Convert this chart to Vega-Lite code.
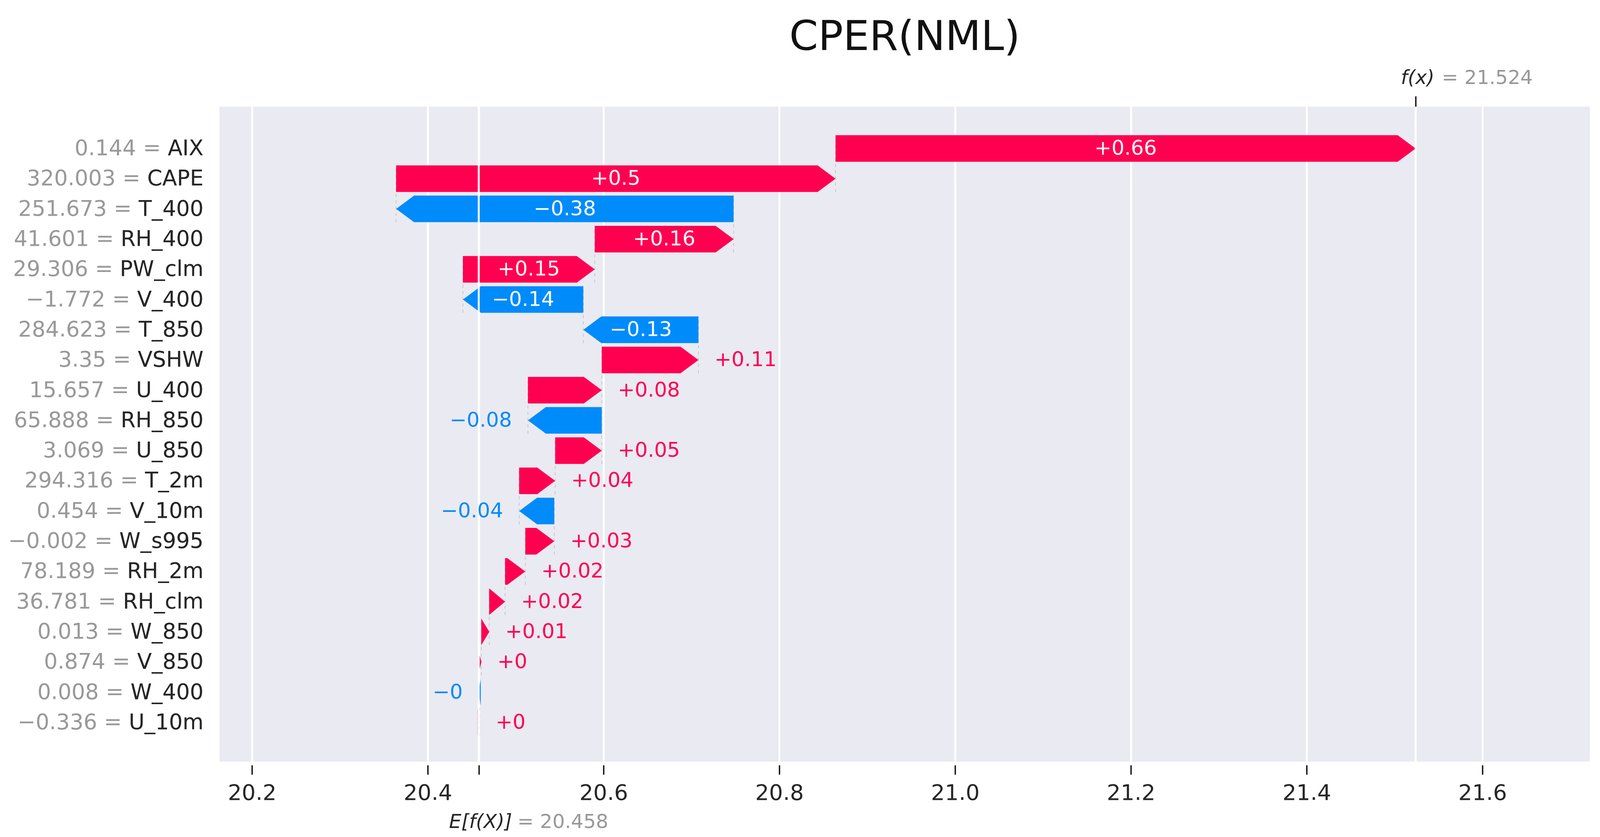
{
  "$schema": "https://vega.github.io/schema/vega-lite/v6.json",
  "width": 3508,
  "height": 1676,
  "autosize": {"type": "none"},
  "padding": {"left": 562, "top": 273, "right": 39, "bottom": 193},
  "background": "white",
  "title": {"text": "CPER(NML)", "fontSize": 106, "font": "DejaVu Sans", "fontWeight": "normal", "color": "#111111", "anchor": "middle", "frame": "group", "offset": 0, "dy": 59, "baseline": "alphabetic"},
  "config": {
    "font": "DejaVu Sans",
    "view": {"fill": "#eaeaf2", "stroke": null}
  },
  "datasets": {
    "rows": [
      {"feature": "AIX", "lbl": "0.144 = AIX", "shap": 0.660, "start": 20.864, "end": 21.524, "txt": "+0.66"},
      {"feature": "CAPE", "lbl": "320.003 = CAPE", "shap": 0.500, "start": 20.364, "end": 20.864, "txt": "+0.5"},
      {"feature": "T_400", "lbl": "251.673 = T_400", "shap": -0.384, "start": 20.748, "end": 20.364, "txt": "−0.38"},
      {"feature": "RH_400", "lbl": "41.601 = RH_400", "shap": 0.158, "start": 20.590, "end": 20.748, "txt": "+0.16"},
      {"feature": "PW_clm", "lbl": "29.306 = PW_clm", "shap": 0.150, "start": 20.440, "end": 20.590, "txt": "+0.15"},
      {"feature": "V_400", "lbl": "−1.772 = V_400", "shap": -0.137, "start": 20.577, "end": 20.440, "txt": "−0.14"},
      {"feature": "T_850", "lbl": "284.623 = T_850", "shap": -0.131, "start": 20.708, "end": 20.577, "txt": "−0.13"},
      {"feature": "VSHW", "lbl": "3.35 = VSHW", "shap": 0.110, "start": 20.598, "end": 20.708, "txt": "+0.11"},
      {"feature": "U_400", "lbl": "15.657 = U_400", "shap": 0.084, "start": 20.514, "end": 20.598, "txt": "+0.08"},
      {"feature": "RH_850", "lbl": "65.888 = RH_850", "shap": -0.084, "start": 20.598, "end": 20.514, "txt": "−0.08"},
      {"feature": "U_850", "lbl": "3.069 = U_850", "shap": 0.053, "start": 20.545, "end": 20.598, "txt": "+0.05"},
      {"feature": "T_2m", "lbl": "294.316 = T_2m", "shap": 0.041, "start": 20.504, "end": 20.545, "txt": "+0.04"},
      {"feature": "V_10m", "lbl": "0.454 = V_10m", "shap": -0.040, "start": 20.544, "end": 20.504, "txt": "−0.04"},
      {"feature": "W_s995", "lbl": "−0.002 = W_s995", "shap": 0.033, "start": 20.511, "end": 20.544, "txt": "+0.03"},
      {"feature": "RH_2m", "lbl": "78.189 = RH_2m", "shap": 0.023, "start": 20.488, "end": 20.511, "txt": "+0.02"},
      {"feature": "RH_clm", "lbl": "36.781 = RH_clm", "shap": 0.018, "start": 20.470, "end": 20.488, "txt": "+0.02"},
      {"feature": "W_850", "lbl": "0.013 = W_850", "shap": 0.009, "start": 20.461, "end": 20.470, "txt": "+0.01"},
      {"feature": "V_850", "lbl": "0.874 = V_850", "shap": 0.003, "start": 20.458, "end": 20.461, "txt": "+0"},
      {"feature": "W_400", "lbl": "0.008 = W_400", "shap": -0.001, "start": 20.459, "end": 20.458, "txt": "−0"},
      {"feature": "U_10m", "lbl": "−0.336 = U_10m", "shap": 0.001, "start": 20.458, "end": 20.459, "txt": "+0"}
    ],
    "refs": [
      {"name": "base", "v": 20.458, "sym": "E[f(X)]", "eq": "= 20.458"},
      {"name": "fx", "v": 21.524, "sym": "f(x)", "eq": "= 21.524"}
    ]
  },
  "resolve": {"axis": {"x": "independent"}},
  "layer": [
    {
      "data": {"name": "rows"},
      "transform": [
        {"window": [{"op": "lag", "field": "lbl", "as": "above"}]},
        {"filter": "datum.above != null"}
      ],
      "mark": {"type": "rule", "color": "#bbbbbb", "strokeWidth": 1.5, "strokeDash": [8, 8], "yOffset": 34, "y2Offset": -34},
      "encoding": {
        "x": {
          "field": "end", "type": "quantitative",
          "scale": {"domain": [20.1631, 21.7222], "nice": false, "zero": false},
          "axis": {
            "orient": "bottom", "title": null, "values": [20.2, 20.4, 20.458, 20.6, 20.8, 21.0, 21.2, 21.4, 21.6],
            "labelExpr": "abs(datum.value - 20.458) < 0.001 ? '' : format(datum.value, '.1f')",
            "domain": false, "ticks": true, "tickColor": "#111111", "tickWidth": 3.5, "tickSize": 24, "offset": 9,
            "labelFontSize": 56, "labelColor": "#262626", "labelPadding": 20, "labelFlush": false, "labelOverlap": false,
            "grid": true, "gridColor": "#ffffff", "gridWidth": 5, "gridOpacity": 1
          }
        },
        "y": {
          "field": "lbl", "type": "nominal", "sort": null,
          "scale": {
            "type": "band",
            "domain": ["0.144 = AIX", "320.003 = CAPE", "251.673 = T_400", "41.601 = RH_400", "29.306 = PW_clm", "−1.772 = V_400", "284.623 = T_850", "3.35 = VSHW", "15.657 = U_400", "65.888 = RH_850", "3.069 = U_850", "294.316 = T_2m", "0.454 = V_10m", "−0.002 = W_s995", "78.189 = RH_2m", "36.781 = RH_clm", "0.013 = W_850", "0.874 = V_850", "0.008 = W_400", "−0.336 = U_10m"],
            "paddingInner": 0, "paddingOuter": 0.838, "align": 0.527
          },
          "axis": {"title": null, "labels": false, "ticks": false, "domain": false, "grid": true, "gridColor": "#ffffff", "gridWidth": 5, "gridOpacity": 1, "bandPosition": 0.5}
        },
        "y2": {"field": "above"}
      }
    },
    {
      "data": {"name": "rows"},
      "transform": [{"filter": "datum.shap >= 0.0204"}],
      "mark": {"type": "bar", "color": "#ff0051", "height": {"band": 0.88}, "x2Offset": -46},
      "encoding": {
        "x": {"field": "start", "type": "quantitative", "axis": null},
        "x2": {"field": "end"},
        "y": {"field": "lbl", "type": "nominal", "sort": null, "axis": null}
      }
    },
    {
      "data": {"name": "rows"},
      "transform": [{"filter": "datum.shap <= -0.0204"}],
      "mark": {"type": "bar", "color": "#008bfb", "height": {"band": 0.88}, "x2Offset": 46},
      "encoding": {
        "x": {"field": "start", "type": "quantitative", "axis": null},
        "x2": {"field": "end"},
        "y": {"field": "lbl", "type": "nominal", "sort": null, "axis": null}
      }
    },
    {
      "data": {"name": "rows"},
      "transform": [{"filter": "datum.shap > 0"}],
      "mark": {"type": "point", "filled": true, "opacity": 1, "strokeWidth": 0, "size": 4624, "color": "#ff0051"},
      "encoding": {
        "x": {"field": "end", "type": "quantitative", "axis": null},
        "y": {"field": "lbl", "type": "nominal", "sort": null, "axis": null},
        "shape": {
          "condition": [
            {"test": "abs(datum.shap) < 0.002", "value": "M0,0 L-0.15,-1 L-0.15,1 Z"},
            {"test": "abs(datum.shap) < 0.005", "value": "M0,0 L-0.25,-1 L-0.25,1 Z"},
            {"test": "abs(datum.shap) < 0.012", "value": "M0,0 L-0.6,-1 L-0.6,1 Z"},
            {"test": "abs(datum.shap) < 0.0204", "value": "M0,0 L-1.2,-1 L-1.2,1 Z"}
          ],
          "value": "M0,0 L-1.35,-1 L-1.42,-1 L-1.42,1 L-1.35,1 Z"
        }
      }
    },
    {
      "data": {"name": "rows"},
      "transform": [{"filter": "datum.shap < 0"}],
      "mark": {"type": "point", "filled": true, "opacity": 1, "strokeWidth": 0, "size": 4624, "color": "#008bfb"},
      "encoding": {
        "x": {"field": "end", "type": "quantitative", "axis": null},
        "y": {"field": "lbl", "type": "nominal", "sort": null, "axis": null},
        "shape": {
          "condition": [
            {"test": "abs(datum.shap) < 0.002", "value": "M0,0 L0.15,-1 L0.15,1 Z"},
            {"test": "abs(datum.shap) < 0.005", "value": "M0,0 L0.25,-1 L0.25,1 Z"},
            {"test": "abs(datum.shap) < 0.012", "value": "M0,0 L0.6,-1 L0.6,1 Z"},
            {"test": "abs(datum.shap) < 0.0204", "value": "M0,0 L1.2,-1 L1.2,1 Z"}
          ],
          "value": "M0,0 L1.35,-1 L1.42,-1 L1.42,1 L1.35,1 Z"
        }
      }
    },
    {
      "data": {"name": "refs"},
      "mark": {"type": "rule", "color": "#ffffff", "strokeWidth": 5},
      "encoding": {
        "x": {
          "field": "v", "type": "quantitative",
          "axis": {"orient": "top", "title": null, "values": [21.524], "labels": false, "domain": false, "grid": false, "ticks": true, "tickSize": 27, "tickWidth": 3.5, "tickColor": "#111111", "offset": 0}
        }
      }
    },
    {
      "data": {"name": "rows"},
      "transform": [
        {"filter": "abs(datum.shap) >= 0.12"},
        {"fold": ["start", "end"], "as": ["k", "pos"]}
      ],
      "mark": {"type": "text", "color": "#ffffff", "fontSize": 52, "align": "center", "baseline": "middle"},
      "encoding": {
        "x": {"aggregate": "mean", "field": "pos", "type": "quantitative", "axis": null},
        "y": {"field": "lbl", "type": "nominal", "sort": null, "axis": null},
        "text": {"field": "txt", "type": "nominal"}
      }
    },
    {
      "data": {"name": "rows"},
      "transform": [{"filter": "datum.shap > 0 && datum.shap < 0.12"}],
      "mark": {"type": "text", "color": "#ff0051", "fontSize": 52, "align": "left", "baseline": "middle", "dx": 41},
      "encoding": {
        "x": {"field": "end", "type": "quantitative", "axis": null},
        "y": {"field": "lbl", "type": "nominal", "sort": null, "axis": null},
        "text": {"field": "txt", "type": "nominal"}
      }
    },
    {
      "data": {"name": "rows"},
      "transform": [{"filter": "datum.shap < 0 && datum.shap > -0.12"}],
      "mark": {"type": "text", "color": "#008bfb", "fontSize": 52, "align": "right", "baseline": "middle", "dx": -41},
      "encoding": {
        "x": {"field": "end", "type": "quantitative", "axis": null},
        "y": {"field": "lbl", "type": "nominal", "sort": null, "axis": null},
        "text": {"field": "txt", "type": "nominal"}
      }
    },
    {
      "data": {"name": "rows"},
      "mark": {"type": "text", "color": "#999999", "fontSize": 55, "align": "right", "baseline": "middle", "dx": -41},
      "encoding": {
        "x": {"datum": 20.1631, "type": "quantitative", "axis": null},
        "y": {"field": "lbl", "type": "nominal", "sort": null, "axis": null},
        "text": {"field": "lbl", "type": "nominal"}
      }
    },
    {
      "data": {"name": "rows"},
      "mark": {"type": "text", "color": "#262626", "fontSize": 55, "align": "right", "baseline": "middle", "dx": -41},
      "encoding": {
        "x": {"datum": 20.1631, "type": "quantitative", "axis": null},
        "y": {"field": "lbl", "type": "nominal", "sort": null, "axis": null},
        "text": {"field": "feature", "type": "nominal"}
      }
    },
    {
      "data": {"name": "refs"},
      "transform": [{"filter": "datum.name == 'fx'"}],
      "mark": {"type": "text", "color": "#262626", "fontSize": 50, "fontStyle": "italic", "align": "left", "baseline": "alphabetic", "dx": -38, "dy": -165},
      "encoding": {
        "x": {"field": "v", "type": "quantitative", "axis": null},
        "y": {"datum": "0.144 = AIX", "type": "nominal", "axis": null},
        "text": {"field": "sym", "type": "nominal"}
      }
    },
    {
      "data": {"name": "refs"},
      "transform": [{"filter": "datum.name == 'fx'"}],
      "mark": {"type": "text", "color": "#999999", "fontSize": 50, "align": "left", "baseline": "alphabetic", "dx": 67, "dy": -165},
      "encoding": {
        "x": {"field": "v", "type": "quantitative", "axis": null},
        "y": {"datum": "0.144 = AIX", "type": "nominal", "axis": null},
        "text": {"field": "eq", "type": "nominal"}
      }
    },
    {
      "data": {"name": "refs"},
      "transform": [{"filter": "datum.name == 'base'"}],
      "mark": {"type": "text", "color": "#262626", "fontSize": 50, "fontStyle": "italic", "align": "left", "baseline": "alphabetic", "dx": -76, "dy": 270},
      "encoding": {
        "x": {"field": "v", "type": "quantitative", "axis": null},
        "y": {"datum": "−0.336 = U_10m", "type": "nominal", "axis": null},
        "text": {"field": "sym", "type": "nominal"}
      }
    },
    {
      "data": {"name": "refs"},
      "transform": [{"filter": "datum.name == 'base'"}],
      "mark": {"type": "text", "color": "#999999", "fontSize": 50, "align": "left", "baseline": "alphabetic", "dx": 99, "dy": 270},
      "encoding": {
        "x": {"field": "v", "type": "quantitative", "axis": null},
        "y": {"datum": "−0.336 = U_10m", "type": "nominal", "axis": null},
        "text": {"field": "eq", "type": "nominal"}
      }
    }
  ]
}
